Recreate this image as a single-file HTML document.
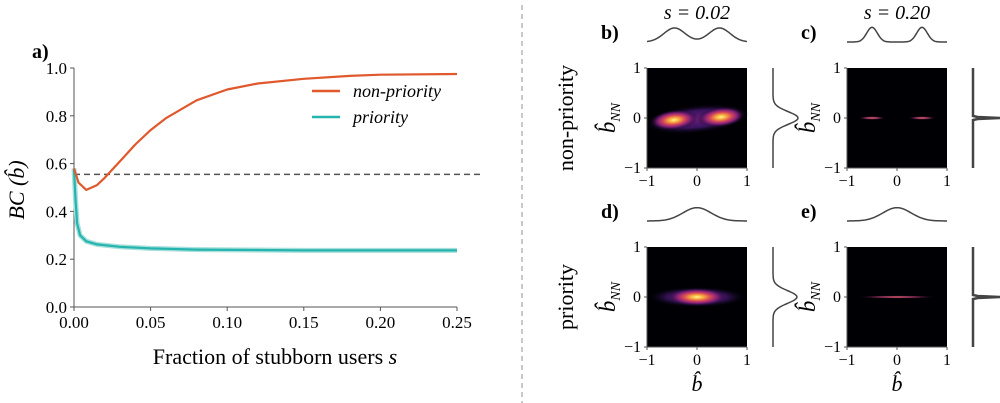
<!DOCTYPE html>
<html><head><meta charset="utf-8"><style>
body{margin:0;background:#fff;}
svg{display:block;font-family:"Liberation Serif",serif;}
</style></head><body>
<svg width="1000" height="403" viewBox="0 0 1000 403">
<defs>
  <radialGradient id="hot" cx="50%" cy="50%" r="50%">
    <stop offset="0" stop-color="#fff3a0"/>
    <stop offset="0.2" stop-color="#f9b43a"/>
    <stop offset="0.45" stop-color="#d8485a"/>
    <stop offset="0.7" stop-color="#7a1d78"/>
    <stop offset="1" stop-color="#0a0616" stop-opacity="0"/>
  </radialGradient>
  <radialGradient id="glow" cx="50%" cy="50%" r="50%">
    <stop offset="0" stop-color="#6b1d7a"/>
    <stop offset="0.6" stop-color="#3a1460"/>
    <stop offset="1" stop-color="#0a0616" stop-opacity="0"/>
  </radialGradient>
  <radialGradient id="thin" cx="50%" cy="50%" r="50%">
    <stop offset="0" stop-color="#e0705a"/>
    <stop offset="0.5" stop-color="#8a2a5a"/>
    <stop offset="1" stop-color="#0a0616" stop-opacity="0"/>
  </radialGradient>
</defs>
<g id="left"></g>
<line x1="522" y1="5" x2="522" y2="403" stroke="#aaa" stroke-width="1.3" stroke-dasharray="5,4"/>
<g id="right"></g>
</svg>
<script>
const sNon=[0,0.003,0.008,0.015,0.02,0.03,0.04,0.05,0.06,0.08,0.10,0.12,0.15,0.18,0.20,0.25];
const bcNon=[0.58,0.52,0.49,0.51,0.54,0.61,0.68,0.74,0.79,0.865,0.91,0.935,0.955,0.967,0.972,0.975];
const sPri=[0,0.001,0.002,0.004,0.008,0.015,0.03,0.05,0.08,0.15,0.25];
const bcPri=[0.58,0.45,0.35,0.30,0.275,0.262,0.252,0.245,0.24,0.237,0.237];
const xTicks=[0,0.05,0.10,0.15,0.20,0.25];
const xTickLabels=["0.00","0.05","0.10","0.15","0.20","0.25"];
const yTicks=[0,0.2,0.4,0.6,0.8,1.0];
const yTickLabels=["0.0","0.2","0.4","0.6","0.8","1.0"];
const baseline=0.555;

const NS="http://www.w3.org/2000/svg";
function mk(parent,tag,attrs,text){const e=document.createElementNS(NS,tag);for(const k in attrs)e.setAttribute(k,attrs[k]);if(text!==undefined)e.textContent=text;parent.appendChild(e);return e;}
const X=v=>74+v/0.25*383;
const Y=v=>307-v*239;
const L=document.getElementById('left');
let ax=mk(L,'line',{x1:74,y1:Y(1),x2:74,y2:307,stroke:'#555','stroke-width':1});


ax=mk(L,'line',{x1:74,y1:307,x2:457,y2:307,stroke:'#555','stroke-width':1});


xTicks.forEach((t,i)=>{
  mk(L,'line',{x1:X(t),y1:307,x2:X(t),y2:311,stroke:'#555'});
  const tx=mk(L,'text',{x:X(t),y:328,'text-anchor':'middle','font-size':17},xTickLabels[i]);
  
  
});
yTicks.forEach((t,i)=>{
  mk(L,'line',{x1:70,y1:Y(t),x2:74,y2:Y(t),stroke:'#555'});
  const tx=mk(L,'text',{x:67,y:Y(t)+6,'text-anchor':'end','font-size':17},yTickLabels[i]);
  
  
});
const bl=mk(L,'line',{x1:74,y1:Y(baseline),x2:480,y2:Y(baseline),stroke:'#555','stroke-width':1.5,'stroke-dasharray':'6,4'});


function path(xs,ys){return xs.map((s,i)=>(i?'L':'M')+X(s).toFixed(1)+','+Y(ys[i]).toFixed(1)).join(' ');}
const band=mk(L,'path',{d:path(sPri,bcPri),fill:'none',stroke:'#a6dfdb','stroke-width':5,'stroke-linejoin':'round'});


const pl=mk(L,'path',{d:path(sPri,bcPri),fill:'none',stroke:'#25b4ae','stroke-width':2.2,'stroke-linejoin':'round'});


const nl=mk(L,'path',{d:path(sNon,bcNon),fill:'none',stroke:'#e0582c','stroke-width':2.2,'stroke-linejoin':'round'});


let g=mk(L,'g',{});


mk(g,'line',{x1:312,y1:91,x2:340,y2:91,stroke:'#e0582c','stroke-width':2.5});
mk(g,'text',{x:353,y:97,'font-size':18,'font-style':'italic'},'non-priority');
g=mk(L,'g',{});


mk(g,'line',{x1:312,y1:117,x2:340,y2:117,stroke:'#25b4ae','stroke-width':2.5});
mk(g,'text',{x:353,y:123,'font-size':18,'font-style':'italic'},'priority');
let t=mk(L,'text',{x:275,y:364,'text-anchor':'middle','font-size':22},'');
t.innerHTML='Fraction of stubborn users <tspan font-style="italic">s</tspan>';


t=mk(L,'text',{transform:'translate(24,190) rotate(-90)','text-anchor':'middle','font-size':22,'font-style':'italic'},'BC (b̂)');


t=mk(L,'text',{x:32,y:58,'font-size':20,'font-weight':'bold'},'a)');



const R=document.getElementById('right');
const panels=[
 {id:'b',x0:647,y0:68,type:'b'},
 {id:'c',x0:847,y0:68,type:'c'},
 {id:'d',x0:647,y0:247,type:'d'},
 {id:'e',x0:847,y0:247,type:'e'}];
panels.forEach(p=>{
  const G=mk(R,'g',{});
  
  
  const x0=p.x0,y0=p.y0,w=100,cx=x0+50,cy=y0+50;
  mk(G,'rect',{x:x0,y:y0,width:w,height:w,fill:'#000004'});
  if(p.type==='b'){
    mk(G,'ellipse',{cx:cx,cy:cy+1,rx:52,ry:14,fill:'url(#glow)',transform:`rotate(-6 ${cx} ${cy})`});
    mk(G,'ellipse',{cx:cx-23,cy:cy+2,rx:24,ry:10,fill:'url(#hot)',transform:`rotate(-6 ${cx-23} ${cy+2})`});
    mk(G,'ellipse',{cx:cx+24,cy:cy-1,rx:24,ry:10,fill:'url(#hot)',transform:`rotate(-6 ${cx+24} ${cy-1})`});
  } else if(p.type==='c'){
    mk(G,'ellipse',{cx:cx-25,cy:cy,rx:14,ry:1.8,fill:'url(#thin)'});
    mk(G,'ellipse',{cx:cx+25,cy:cy,rx:14,ry:1.8,fill:'url(#thin)'});
  } else if(p.type==='d'){
    mk(G,'ellipse',{cx:cx,cy:cy,rx:48,ry:10,fill:'url(#glow)'});
    mk(G,'ellipse',{cx:cx,cy:cy,rx:30,ry:9,fill:'url(#hot)'});
  } else {
    mk(G,'ellipse',{cx:cx,cy:cy,rx:40,ry:1.5,fill:'url(#thin)'});
  }
  mk(G,'line',{x1:x0,y1:y0,x2:x0,y2:y0+w,stroke:'#555'});
  mk(G,'line',{x1:x0,y1:y0+w,x2:x0+w,y2:y0+w,stroke:'#555'});
  [-1,0,1].forEach(v=>{
    const tx=cx+v*50,ty=cy-v*50;
    mk(G,'line',{x1:tx,y1:y0+w,x2:tx,y2:y0+w+3,stroke:'#555'});
    mk(G,'line',{x1:x0-3,y1:ty,x2:x0,y2:ty,stroke:'#555'});
    const a=mk(G,'text',{x:tx,y:y0+w+18,'text-anchor':'middle','font-size':16},v<0?'−1':String(v));
    
    
    const b=mk(G,'text',{x:x0-6,y:ty+5,'text-anchor':'end','font-size':16},v<0?'−1':String(v));
    
    
  });
  const yl=mk(G,'text',{transform:`translate(${x0-32},${cy}) rotate(-90)`,'text-anchor':'middle','font-size':23,'font-style':'italic'},'');
  yl.innerHTML='b̂<tspan font-size="14" dy="5">NN</tspan>';
  
  
  const by=y0-26;
  let d='';
  for(let i=0;i<=100;i++){
    const u=-1+i/50;let f;
    if(p.type==='b') f=Math.exp(-Math.pow((u+0.45)/0.3,2))+Math.exp(-Math.pow((u-0.45)/0.3,2));
    else if(p.type==='c') f=1.05*(Math.exp(-Math.pow((u+0.5)/0.15,2))+Math.exp(-Math.pow((u-0.5)/0.15,2)));
    else f=0.95*Math.exp(-Math.pow(u/0.4,2));
    d+=(i?'L':'M')+(x0+i).toFixed(1)+','+(by-f*14).toFixed(1);
  }
  const tm=mk(G,'path',{d:d,fill:'none',stroke:'#444','stroke-width':1.5});
  
  
  const rx=x0+126;
  let d2='';
  for(let i=0;i<=100;i++){
    const v=1-i/50;let f;
    if(p.type==='b'||p.type==='d') f=(p.type==='b'?25:24)*Math.exp(-Math.pow(v/0.18,2));
    else f=28*Math.exp(-Math.pow(v/0.015,2));
    d2+=(i?'L':'M')+(rx+f).toFixed(1)+','+(y0+i).toFixed(1);
  }
  const rm=mk(G,'path',{d:d2,fill:'none',stroke:'#444','stroke-width':p.type==='b'||p.type==='d'?1.5:2.5});
  
  
  const lab=mk(G,'text',{x:x0-46,y:y0-29,'font-size':20,'font-weight':'bold'},p.id+')');
  
  
  if(p.type==='d'||p.type==='e'){
    const xl=mk(G,'text',{x:cx,y:y0+w+44,'text-anchor':'middle','font-size':22,'font-style':'italic'},'b̂');
    
    
  }
});
let tt=mk(R,'text',{x:697,y:19,'text-anchor':'middle','font-size':20,'font-style':'italic'},'s = 0.02');


tt=mk(R,'text',{x:897,y:19,'text-anchor':'middle','font-size':20,'font-style':'italic'},'s = 0.20');


tt=mk(R,'text',{transform:'translate(573,118) rotate(-90)','text-anchor':'middle','font-size':22},'non-priority');


tt=mk(R,'text',{transform:'translate(573,297) rotate(-90)','text-anchor':'middle','font-size':22},'priority');


</script>
</body></html>
